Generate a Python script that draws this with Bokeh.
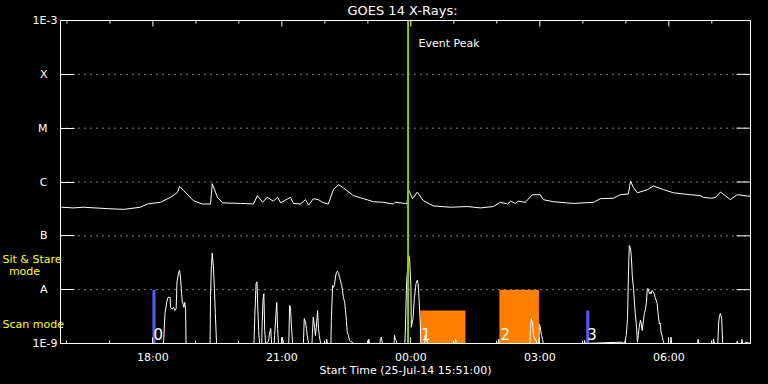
import math
import numpy as np
from bokeh.plotting import figure
from bokeh.models import Range1d, FixedTicker, LinearAxis, LogAxis, Grid
from bokeh.core.properties import value
from bokeh.embed import file_html
from bokeh.resources import INLINE
from bokeh.core.templates import FILE
from jinja2 import Template

# ---------------- data (time = hours after 00:00 on 25-Jul-14; >24 means 26-Jul) -------------
x_start, x_end = 15.85, 31.90          # 15:51 .. ~07:54
y_min, y_max = 1e-9, 1e-3
event_peak = [23.935]

long_t = [15.87, 16.15, 16.38, 16.94, 17.32, 17.71, 17.87, 18.18, 18.41, 18.57,
          18.62, 18.71, 18.94, 19.15, 19.34, 19.38, 19.50, 19.62, 20.04, 20.34,
          20.43, 20.55, 20.66, 20.80, 20.90, 20.97, 21.20, 21.27, 21.43, 21.55,
          21.62, 21.73, 21.85, 21.94, 22.08, 22.20, 22.32, 22.43, 22.66, 22.90,
          23.13, 23.36, 23.59, 23.64, 23.87, 23.91, 23.94, 24.04, 24.15, 24.29,
          24.52, 24.92, 25.31, 25.62, 25.92, 26.08, 26.25, 26.32, 26.43, 26.50,
          26.66, 26.83, 27.01, 27.08, 27.31, 27.78, 28.25, 28.41, 28.71, 28.87,
          29.06, 29.11, 29.18, 29.27, 29.50, 29.64, 29.88, 30.11, 30.50, 30.73,
          30.80, 30.97, 31.08, 31.20, 31.31, 31.43, 31.59, 31.90]
long_flux = [3.4e-7, 3.3e-7, 3.4e-7, 3.2e-7, 3.1e-7, 3.4e-7, 3.9e-7, 4.2e-7, 5.2e-7, 6.4e-7,
             8.3e-7, 7.0e-7, 4.5e-7, 3.9e-7, 3.9e-7, 9.3e-7, 5.2e-7, 4.1e-7, 4.0e-7, 3.9e-7,
             5.6e-7, 4.2e-7, 5.2e-7, 4.4e-7, 5.2e-7, 4.1e-7, 5.2e-7, 4.0e-7, 3.9e-7, 4.7e-7,
             3.7e-7, 4.9e-7, 4.7e-7, 4.2e-7, 3.9e-7, 7.3e-7, 8.9e-7, 7.8e-7, 5.6e-7, 4.9e-7,
             4.3e-7, 4.2e-7, 3.9e-7, 4.2e-7, 4.0e-7, 3.9e-7, 7.3e-7, 4.9e-7, 6.5e-7, 4.5e-7,
             3.6e-7, 3.4e-7, 3.5e-7, 3.3e-7, 3.5e-7, 4.2e-7, 3.9e-7, 4.4e-7, 4.0e-7, 4.4e-7,
             4.2e-7, 5.8e-7, 5.8e-7, 4.7e-7, 4.3e-7, 4.0e-7, 4.2e-7, 4.9e-7, 5.0e-7, 5.8e-7,
             6.0e-7, 1.04e-6, 7.8e-7, 6.3e-7, 7.2e-7, 8.4e-7, 7.2e-7, 6.3e-7, 5.8e-7, 5.6e-7,
             5.2e-7, 5.0e-7, 5.1e-7, 6.5e-7, 5.6e-7, 4.7e-7, 5.8e-7, 5.4e-7]

short_t = [
    15.85, 18.24, 18.25, 18.28, 18.32, 18.35, 18.40, 18.41, 18.45, 18.48, 18.51, 18.54, 18.56, 18.60, 18.62, 18.64, 18.66, 18.68, 18.72, 18.74, 18.76, 18.77,
    19.33, 19.34, 19.36, 19.38, 19.41, 19.43, 19.45, 19.48,
    20.35, 20.37, 20.40, 20.42, 20.44, 20.46, 20.48,
    20.53, 20.54, 20.56, 20.58, 20.60, 20.62,
    20.69, 20.71, 20.74, 20.76,
    20.82, 20.83, 20.86, 20.88, 20.90, 20.92,
    21.00, 21.01, 21.04,
    21.16, 21.18, 21.20, 21.22, 21.25,
    21.50, 21.52, 21.55, 21.57, 21.59, 21.62,
    21.70, 21.71, 21.73, 21.76, 21.78, 21.80, 21.83, 21.85, 21.87, 21.90,
    22.03, 22.04, 22.06,
    22.14, 22.15, 22.18, 22.20, 22.22, 22.25, 22.27, 22.29, 22.32, 22.34, 22.36, 22.39, 22.41, 22.43, 22.46, 22.48, 22.50, 22.52, 22.55, 22.57, 22.59, 22.64, 22.66,
    23.01, 23.02, 23.04,
    23.28, 23.29, 23.31, 23.34,
    23.61, 23.62, 23.64, 23.66, 23.68,
    23.86, 23.87, 23.90, 23.92, 23.95, 23.97, 24.00, 24.01, 24.05, 24.08, 24.12, 24.15, 24.17, 24.19, 24.22, 24.23,
    24.32, 24.33, 24.36, 24.37, 24.40,
    25.03, 25.04, 25.06,
    26.03, 26.04, 26.06,
    26.77, 26.78, 26.80, 26.83, 26.85, 26.88, 26.90, 26.93,
    26.98, 26.99, 27.01, 27.04, 27.06, 27.08,
    28.03, 28.04, 28.06,
    28.89, 28.97, 29.01, 29.04, 29.06, 29.08, 29.11, 29.13, 29.15, 29.18, 29.20, 29.22, 29.25, 29.27, 29.29, 29.31, 29.34, 29.36, 29.38, 29.41,
    29.43, 29.45, 29.48, 29.50, 29.52, 29.55, 29.57, 29.59, 29.61, 29.64, 29.66, 29.68, 29.71, 29.73, 29.75, 29.78, 29.80, 29.82, 29.85, 29.87, 29.89,
    30.04, 30.05, 30.07,
    30.67, 30.68, 30.70,
    31.03, 31.04, 31.06,
    31.14, 31.16, 31.18, 31.20, 31.23, 31.25, 31.27,
    31.58, 31.59, 31.61,
    31.69, 31.70, 31.72,
    31.77, 31.78, 31.90]
short_flux = [
    1e-9, 1e-9, 1.14e-9, 3.6e-9, 5.8e-9, 7.2e-9, 7.2e-9, 4.7e-9, 4.4e-9, 4.7e-9, 4.1e-9, 4.4e-9, 1.4e-8, 2.1e-8, 2.3e-8, 1.7e-8, 1.04e-8, 6.3e-9, 4.7e-9, 5.8e-9, 4.4e-9, 1e-9,
    1e-9, 7.8e-9, 2.8e-8, 4.8e-8, 2.4e-8, 1.04e-8, 3.8e-9, 1e-9,
    1e-9, 3.3e-9, 1.3e-8, 1.4e-8, 4.4e-9, 1.74e-9, 1e-9,
    1e-9, 2.2e-9, 6.3e-9, 8.4e-9, 1.74e-9, 1e-9,
    1.1e-9, 1.5e-9, 1.9e-9, 1e-9,
    1e-9, 1.41e-9, 3.3e-9, 5.8e-9, 1.9e-9, 1e-9,
    1e-9, 1.3e-9, 1e-9,
    1e-9, 5.1e-9, 4.7e-9, 2.2e-9, 1e-9,
    1e-9, 2.9e-9, 2.5e-9, 1.9e-9, 1.41e-9, 1e-9,
    1e-9, 1.62e-9, 3.1e-9, 2.0e-9, 1.4e-9, 2.0e-9, 4.1e-9, 1.9e-9, 1.4e-9, 1e-9,
    1e-9, 1.2e-9, 1e-9,
    1e-9, 2.7e-9, 1.2e-8, 1.1e-8, 1.2e-8, 1.8e-8, 2.1e-8, 2.2e-8, 2.0e-8, 1.7e-8, 1.5e-8, 1.2e-8, 9.7e-9, 7.2e-9, 5.8e-9, 4.1e-9, 2.7e-9, 1.62e-9, 1.41e-9, 1.14e-9, 1.1e-9, 1.05e-9, 1e-9,
    1e-9, 1.2e-9, 1e-9,
    1e-9, 1.2e-9, 1.31e-9, 1e-9,
    1e-9, 1.41e-9, 1.2e-9, 1.14e-9, 1e-9,
    1e-9, 1.62e-9, 1.3e-8, 2.2e-8, 4.3e-8, 3.7e-8, 1.2e-8, 2.0e-9, 2.9e-9, 6.8e-9, 1.3e-8, 1.5e-8, 1.3e-8, 6.8e-9, 2.2e-9, 1e-9,
    1e-9, 1.4e-9, 1.1e-9, 1.2e-9, 1e-9,
    1e-9, 1.2e-9, 1e-9,
    1e-9, 1.2e-9, 1e-9,
    1e-9, 1.9e-9, 2.9e-9, 2.4e-9, 1.41e-9, 1.2e-9, 1.22e-9, 1e-9,
    1e-9, 2.3e-9, 2.0e-9, 1.41e-9, 1.2e-9, 1e-9,
    1e-9, 1.14e-9, 1e-9,
    1.06e-9, 1e-9, 1.41e-9, 2.9e-9, 1.8e-8, 6.6e-8, 5.7e-8, 4.0e-8, 1.8e-8, 1.04e-8, 5.8e-9, 3.6e-9, 2.0e-9, 1.06e-9, 1.41e-9, 2.0e-9, 2.7e-9, 2.3e-9, 1.74e-9, 2.7e-9,
    3.6e-9, 4.1e-9, 5.8e-9, 1.04e-8, 1.04e-8, 8.4e-9, 9.0e-9, 8.4e-9, 9.7e-9, 9.0e-9, 8.4e-9, 7.2e-9, 6.3e-9, 5.5e-9, 3.6e-9, 2.3e-9, 2.4e-9, 1.62e-9, 1.31e-9, 1.1e-9, 1e-9,
    1e-9, 1.31e-9, 1e-9,
    1e-9, 1.2e-9, 1e-9,
    1e-9, 1.2e-9, 1e-9,
    1e-9, 2.5e-9, 3.3e-9, 3.6e-9, 2.9e-9, 1.06e-9, 1e-9,
    1e-9, 1.1e-9, 1e-9,
    1e-9, 1.2e-9, 1e-9,
    1e-9, 1.06e-9, 1e-9]

# observation markers (0 and 3 blue, 1 and 2 orange)
obs_start = [17.99, 24.22, 26.06, 28.08]
obs_end = [18.06, 25.27, 26.98, 28.15]
obs_top = [1e-8, 4.1e-9, 1e-8, 4.1e-9]
obs_color = ["#5A5AFF", "#FF8000", "#FF8000", "#5A5AFF"]
obs_label = ["0", "1", "2", "3"]

# y axis: decade ends labelled numerically, GOES classes by letter
y_end_ticks = [1e-9, 1e-3]
y_end_labels = ["1E-9", "1E-3"]
y_class_ticks = [1e-8, 1e-7, 1e-6, 1e-5, 1e-4]
y_class_labels = ["A", "B", "C", "M", "X"]
x_ticks = [18, 21, 24, 27, 30]
x_tick_labels = ["18:00", "21:00", "00:00", "03:00", "06:00"]
x_minor_ticks = [16, 17, 19, 20, 22, 23, 25, 26, 28, 29, 31]

title_text = "GOES 14 X-Rays:"
xlabel_text = "Start Time (25-Jul-14 15:51:00)"
peak_text = "Event Peak"
mode_labels = ["Sit & Stare", "mode", "Scan mode"]

FONT = "DejaVu Sans"
WHITE = "white"
YELLOW = "#FFFF00"
GREEN = "#92CA00"

# ---------------- geometry: the frame fills the canvas, the data box sits inside it -------------
W, H = 768, 384
BOX_L, BOX_R, BOX_T, BOX_B = 60, 750, 20, 343
x_per_px = (x_end - x_start) / (BOX_R - BOX_L)
dec_per_px = (math.log10(y_max) - math.log10(y_min)) / (BOX_B - BOX_T)


def px_x(px):
    return x_start + (px - BOX_L) * x_per_px


def px_y(py):
    return 10 ** (math.log10(y_min) + (BOX_B - py) * dec_per_px)


p = figure(width=W, height=H, x_range=Range1d(px_x(0), px_x(W)), y_range=Range1d(px_y(H), px_y(0)),
           y_axis_type="log", x_axis_location=None, y_axis_location=None,
           output_backend="svg", toolbar_location=None,
           background_fill_color="black", border_fill_color="black", outline_line_color=None,
           min_border=0)
p.title.visible = False
p.center = [r for r in p.center if not isinstance(r, Grid)]

# bottom axis, pinned to the box bottom
xax = LinearAxis(fixed_location=y_min, bounds=(x_start, x_end),
                 ticker=FixedTicker(ticks=x_ticks, minor_ticks=x_minor_ticks),
                 major_label_overrides={t: l for t, l in zip(x_ticks, x_tick_labels)},
                 axis_line_color=WHITE, major_tick_line_color=WHITE, minor_tick_line_color=WHITE,
                 major_tick_in=6, major_tick_out=0, minor_tick_in=3, minor_tick_out=0,
                 major_label_text_color=WHITE, major_label_text_font=FONT,
                 major_label_text_font_size="11px", major_label_standoff=7,
                 axis_label=xlabel_text, axis_label_text_color=WHITE, axis_label_text_font=FONT,
                 axis_label_text_font_size="11px", axis_label_text_font_style="normal",
                 axis_label_standoff=-3)
p.add_layout(xax, "below")

# left axes, pinned to the box left edge (numeric ends and class letters have different label offsets)
y_common = dict(fixed_location=x_start, bounds=(y_min, y_max),
                axis_line_color=WHITE, major_tick_line_color=WHITE, minor_tick_line_color=None,
                major_tick_in=14, major_tick_out=0, minor_tick_in=0, minor_tick_out=0,
                major_label_text_color=WHITE, major_label_text_font=FONT,
                major_label_text_font_size="11px")
yax_ends = LogAxis(ticker=FixedTicker(ticks=y_end_ticks, minor_ticks=[]),
                   major_label_overrides={t: l for t, l in zip(y_end_ticks, y_end_labels)},
                   major_label_standoff=3, **y_common)
yax_class = LogAxis(ticker=FixedTicker(ticks=y_class_ticks, minor_ticks=[]),
                    major_label_overrides={t: l for t, l in zip(y_class_ticks, y_class_labels)},
                    major_label_standoff=13, **y_common)
p.add_layout(yax_ends, "left")
p.add_layout(yax_class, "left")

# dotted level lines
p.segment(x0=[x_start] * len(y_class_ticks), y0=y_class_ticks, x1=[x_end] * len(y_class_ticks),
          y1=y_class_ticks, line_color=WHITE, line_width=1, line_dash="1 5")

# observation blocks
p.quad(left=obs_start, right=obs_end, bottom=[y_min] * len(obs_start), top=obs_top,
       fill_color=obs_color, line_color=None)

# curves
p.line(long_t, long_flux, line_color=WHITE, line_width=1)
p.line(short_t, short_flux, line_color=WHITE, line_width=1)

# box (top and right edges; left/bottom come from the axes too)
p.quad(left=[x_start], right=[x_end], bottom=[y_min], top=[y_max], fill_color=None,
       line_color=WHITE, line_width=1)

# inward ticks on right (y) and top (x) edges
all_y_ticks = y_end_ticks + y_class_ticks
p.ray(x=[x_end] * len(all_y_ticks), y=all_y_ticks, length=14, length_units="screen", angle=np.pi,
      line_color=WHITE, line_width=1)
p.ray(x=x_ticks, y=[y_max] * len(x_ticks), length=6, length_units="screen", angle=-np.pi / 2,
      line_color=WHITE, line_width=1)
p.ray(x=x_minor_ticks, y=[y_max] * len(x_minor_ticks), length=3, length_units="screen", angle=-np.pi / 2,
      line_color=WHITE, line_width=1)

# event peak
p.segment(x0=event_peak, y0=[y_min], x1=event_peak, y1=[y_max], line_color=GREEN, line_width=2)

# observation numbers
p.text(x=obs_start, y=[1.53e-9] * len(obs_start), text=obs_label, text_color=WHITE,
       text_font=value(FONT), text_font_size="15px", text_baseline="middle", text_align="left",
       x_offset=1)

# texts
p.text(x=[px_x(402)], y=[px_y(10)], text=[title_text], text_color=WHITE, text_font=value(FONT),
       text_font_size="13px", text_baseline="middle", text_align="center")
p.text(x=[px_x(418)], y=[px_y(43)], text=[peak_text], text_color=WHITE, text_font=value(FONT),
       text_font_size="11px", text_baseline="middle", text_align="left")
p.text(x=[px_x(2), px_x(24), px_x(2)], y=[px_y(259), px_y(271), px_y(324)], text=mode_labels,
       text_color=YELLOW, text_font=value(FONT), text_font_size="11px", text_baseline="middle",
       text_align=["left", "center", "left"])

tmpl = Template('{% extends base %}{% block preamble %}<style>html, body { background: #000000; }</style>{% endblock %}')
open("out.html", "w").write(file_html(p, INLINE, title="GOES 14 X-Rays",
                                      template=tmpl, template_variables={"base": FILE}))
